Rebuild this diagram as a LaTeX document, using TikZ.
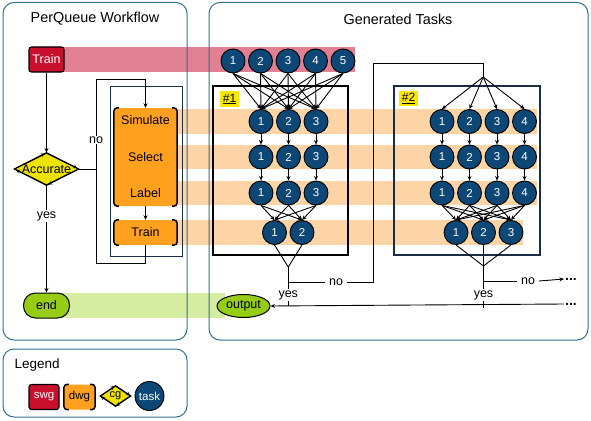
\documentclass[tikz,border=0pt]{standalone}
\usepackage{fontspec}
\setmainfont{Liberation Sans}
\usetikzlibrary{shapes.geometric,arrows.meta,decorations.markings}
\definecolor{swgred}{RGB}{200,16,46}
\definecolor{dwgorange}{RGB}{255,160,30}
\definecolor{cgyellow}{RGB}{238,226,0}
\definecolor{endgreen}{RGB}{150,205,20}
\definecolor{taskblue}{RGB}{13,71,118}
\definecolor{panelblue}{RGB}{49,112,143}
\definecolor{navyline}{RGB}{25,45,70}
\definecolor{pinkband}{RGB}{224,128,146}
\definecolor{orangeband}{RGB}{252,212,165}
\definecolor{greenband}{RGB}{214,236,160}
\definecolor{hlyellow}{RGB}{250,230,0}
\newcommand{\dwgbrk}[1]{%
  \draw[line width=1.5pt,rounded corners=3.5pt] ([xshift=5pt]#1.north west) -- (#1.north west) -- (#1.south west) -- ([xshift=5pt]#1.south west);
  \draw[line width=1.5pt,rounded corners=3.5pt] ([xshift=-5pt]#1.north east) -- (#1.north east) -- (#1.south east) -- ([xshift=-5pt]#1.south east);}
\newcommand{\cgmarks}[1]{%
  \draw[line width=0.9pt,postaction={decorate},decoration={markings,
    mark=at position 0.235 with {\arrow{Stealth[length=3.8pt,width=3.8pt]}},
    mark=at position 0.485 with {\arrow{Stealth[length=3.8pt,width=3.8pt]}},
    mark=at position 0.735 with {\arrow{Stealth[length=3.8pt,width=3.8pt]}},
    mark=at position 0.985 with {\arrow{Stealth[length=3.8pt,width=3.8pt]}}}]
    (#1.west) -- (#1.north) -- (#1.east) -- (#1.south) -- cycle;}
\begin{document}
\begin{tikzpicture}[x=1pt,y=-1pt,
  task/.style={circle,draw=black,line width=0.9pt,fill=taskblue,text=white,minimum size=24pt,inner sep=0pt,font=\fontsize{11.5}{13}\selectfont},
  arr/.style={-{Stealth[length=4.5pt,width=4pt]},line width=0.9pt},
  ln/.style={line width=0.9pt},
  txt/.style={font=\fontsize{12.5}{14}\selectfont},
  lbl/.style={fill=white,inner xsep=4pt,inner ysep=1pt,font=\fontsize{12.5}{14}\selectfont},
  ttl/.style={font=\fontsize{14.4}{16}\selectfont},
  panel/.style={draw=panelblue,line width=1pt,rounded corners=11pt},
  swgbox/.style={rectangle,rounded corners=2.5pt,draw=black,line width=1.1pt,fill=swgred,text=white,inner sep=0pt},
  dwgbox/.style={rectangle,rounded corners=4pt,fill=dwgorange,inner sep=0pt},
  cgbox/.style={diamond,draw=black,line width=0.9pt,fill=cgyellow,inner sep=0pt},
  endbox/.style={rectangle,rounded corners=12pt,draw=black,line width=1pt,fill=endgreen,inner sep=0pt},
  hl/.style={fill=hlyellow,inner sep=2.5pt,font=\fontsize{12}{14}\selectfont},
  dots/.style={font=\fontsize{14}{16}\selectfont\bfseries,inner sep=1pt}
]
\useasboundingbox (0,0) rectangle (591,420);
% bands
\fill[pinkband] (50,47) rectangle (355,72);
\fill[orangeband] (177,109) rectangle (537,134);
\fill[orangeband] (177,145) rectangle (537,169);
\fill[orangeband] (177,181) rectangle (537,205);
\fill[orangeband] (177,220) rectangle (523,245);
\fill[greenband] (60,293) rectangle (225,318);
% panels
\draw[panel] (3,2.5) rectangle (187,340);
\draw[panel] (209,2.5) rectangle (588,340);
\draw[panel] (3,349) rectangle (187,417);
\node[ttl] (t0) at (95,19) {PerQueue Workflow};
\node[ttl] (t1) at (398,19) {Generated Tasks};
\node[font=\fontsize{13.5}{15}\selectfont,anchor=west] (leg) at (11,365) {Legend};

% left workflow
\node[swgbox,minimum width=35,minimum height=25,txt] (tr) at (46.5,59.5) {Train};
\node[cgbox,minimum width=64,minimum height=32] (acc) at (46.5,169) {};
\cgmarks{acc}
\node[txt] (acct) at (acc) {Accurate};
\node[endbox,minimum width=46,minimum height=25,txt] (end) at (46.5,305.5) {end};
\draw[arr] (tr.south) -- (acc.north);
\draw[arr] (acc.south) -- (end.north);
\node[lbl] (yes0) at (46.5,216) {yes};

\draw[navyline,line width=1pt] (110,86) rectangle (182,256);
\node[dwgbox,minimum width=63,minimum height=98] (ssl) at (145.5,157) {};
\dwgbrk{ssl}
\node[txt] (sim) at (145.5,120) {Simulate};
\node[txt] (sel) at (145.5,157) {Select};
\node[txt] (lab) at (145.5,193) {Label};
\node[dwgbox,minimum width=63,minimum height=25,txt] (tro) at (145.5,232.5) {Train};
\dwgbrk{tro}
\draw[arr] (ssl.south) -- (tro.north);
\coordinate (lpb) at (96,263);
\coordinate (lpt) at (145.5,79);
\coordinate (lpm) at (96,169);
\draw[ln] (tro.south) |- (lpb) |- (lpt);
\draw[arr] (lpt) -- (ssl.north);
\draw[ln] (acc.east) -- (lpm);
\node[lbl] (no0) at (96,140) {no};

% task circles
\foreach \x [count=\i] in {233,260.5,288,315.5,343}
  \node[task] (t\i) at (\x,61) {\i};
\foreach \x [count=\i] in {261,288.5,316}{
  \node[task] (a\i) at (\x,121.5) {\i};
  \node[task] (b\i) at (\x,157) {\i};
  \node[task] (c\i) at (\x,193) {\i};}
\foreach \x [count=\i] in {274.5,302}
  \node[task] (d\i) at (\x,232.5) {\i};
\foreach \x [count=\i] in {442,469.5,497,524.5}{
  \node[task] (e\i) at (\x,121.5) {\i};
  \node[task] (f\i) at (\x,157) {\i};
  \node[task] (g\i) at (\x,193) {\i};}
\foreach \x [count=\i] in {456,483.5,511}
  \node[task] (h\i) at (\x,232.5) {\i};

% task boxes
\draw[black,line width=1.1pt] (213,86) rectangle (348,255);
\draw[navyline,line width=1.1pt] (394,86) rectangle (540,255);
\node[hl] (h1lbl) at (229.5,99) {\underline{\#1}};
\node[hl] (h2lbl) at (408.5,98.5) {\underline{\#2}};

% connections #1
\foreach \i in {1,...,5}{\foreach \j in {1,2,3}{\draw[arr] (t\i.south) -- (a\j.north);}}
\foreach \i in {1,2,3}{\draw[arr] (a\i.south) -- (b\i.north); \draw[arr] (b\i.south) -- (c\i.north);}
\foreach \i in {1,2,3}{\foreach \j in {1,2}{\draw[arr] (c\i.south) -- (d\j.north);}}
\coordinate (m1) at (288.25,267);
\coordinate (m1b) at (288.25,282);
\coordinate (m1y) at (288.25,306);
\draw[ln] (d1.south) -- (m1) -- (d2.south);
\draw[ln] (m1) -- (m1y);
\node[lbl] (no1) at (336,282) {no};
\coordinate (r1) at (373,282);
\coordinate (r1t) at (373,63);
\coordinate (f2t) at (483.25,63);
\coordinate (fan2) at (483.25,77);
\draw[ln] (m1b) -- (no1.west);
\draw[ln] (no1.east) -- (r1) -- (r1t) -- (f2t) -- (fan2);
\foreach \i in {1,...,4}{\draw[arr] (fan2) -- (e\i.north);}
\node[lbl] (yes1) at (288.25,295) {yes};

% connections #2
\foreach \i in {1,...,4}{\draw[arr] (e\i.south) -- (f\i.north); \draw[arr] (f\i.south) -- (g\i.north);}
\foreach \i in {1,...,4}{\foreach \j in {1,2,3}{\draw[arr] (g\i.south) -- (h\j.north);}}
\coordinate (m2) at (483.5,266);
\coordinate (m2b) at (483.5,281);
\coordinate (m2y) at (483.5,308);
\draw[ln] (h1.south) -- (m2) -- (h3.south);
\draw[ln] (h2.south) -- (m2);
\draw[ln] (m2) -- (m2y);
\node[lbl] (no2) at (528,281) {no};
\node[dots] (dots1) at (571,279) {...};
\draw[ln] (m2b) -- (no2.west);
\draw[arr] (no2.east) -- (dots1.west);
\node[lbl] (yes2) at (483.5,295) {yes};

% output
\node[ellipse,draw=black,line width=1pt,fill=endgreen,minimum width=53,minimum height=23,inner sep=0pt,txt] (out) at (243.5,306) {output};
\node[dots] (dots2) at (571,304) {...};
\draw[arr] (dots2.west) -- (out.east);

% legend
\node[swgbox,minimum width=30,minimum height=25,font=\fontsize{11.5}{13}\selectfont] (lswg) at (44,397) {swg};
\node[dwgbox,minimum width=31,minimum height=25,font=\fontsize{11.5}{13}\selectfont] (ldwg) at (79.5,397) {dwg};
\dwgbrk{ldwg}
\node[cgbox,minimum width=30,minimum height=20] (lcg) at (115.5,396) {};
\cgmarks{lcg}
\node[font=\fontsize{11}{12}\selectfont] (lcgt) at (lcg) {cg};
\node[task,minimum size=29pt,font=\fontsize{11.5}{13}\selectfont] (ltask) at (149.5,396) {task};
\end{tikzpicture}
\end{document}
